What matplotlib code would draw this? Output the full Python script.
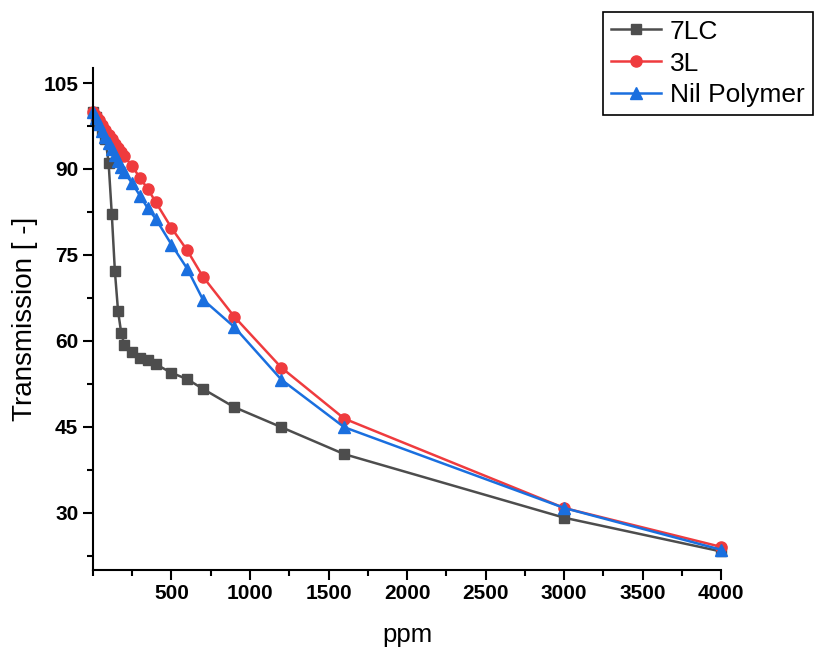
import matplotlib
matplotlib.use("Agg")
import matplotlib.pyplot as plt
from matplotlib.ticker import MultipleLocator

plt.rcParams["font.family"] = ["Liberation Sans", "DejaVu Sans"]

# ppm values and transmission readings
ppm = [0, 20, 40, 60, 80, 100, 120, 140, 160, 180, 200, 250, 300, 350, 400,
       500, 600, 700, 900, 1200, 1600, 3000, 4000]
lc7 = [100, 99, 98, 96.8, 95.3, 91, 82.2, 72.1, 65.2, 61.4, 59.3, 58, 57,
       56.6, 55.9, 54.4, 53.3, 51.6, 48.4, 44.9, 40.2, 29.1, 23.2]
l3 = [100, 99.3, 98.5, 97.6, 96.8, 96, 95.2, 94.4, 93.6, 92.9, 92.2, 90.5,
      88.4, 86.5, 84.2, 79.7, 75.8, 71.2, 64.2, 55.3, 46.4, 30.8, 24.0]
nil = [100, 98.9, 97.8, 96.7, 95.6, 94.6, 93.5, 92.4, 91.4, 90.4, 89.4, 87.5,
       85.3, 83.1, 81.3, 76.8, 72.6, 67.2, 62.4, 53.2, 44.9, 30.8, 23.5]

fig = plt.figure(figsize=(8.15, 6.49), dpi=100)
ax = fig.add_axes([0.114, 0.122, 0.771, 0.773])

ax.plot(ppm, lc7, color="#4d4d4d", marker="s", markersize=7, lw=1.8,
        label="7LC", clip_on=False)
ax.plot(ppm, l3, color="#ef3b3e", marker="o", markersize=8, lw=1.8,
        label="3L", clip_on=False)
ax.plot(ppm, nil, color="#1a6fdf", marker="^", markersize=8, lw=1.8,
        label="Nil Polymer", clip_on=False)

ax.set_xlim(0, 4000)
ax.set_ylim(20, 107.6)
ax.xaxis.set_minor_locator(MultipleLocator(250))
ax.yaxis.set_minor_locator(MultipleLocator(7.5))
ax.set_xticks([500, 1000, 1500, 2000, 2500, 3000, 3500, 4000])
ax.set_yticks([30, 45, 60, 75, 90, 105])

for s in ["top", "right"]:
    ax.spines[s].set_visible(False)
for s in ["left", "bottom"]:
    ax.spines[s].set_linewidth(1.5)
ax.tick_params(which="major", length=7, width=1.5, labelsize=15)
ax.tick_params(which="minor", length=4, width=1.5)
for lab in ax.get_xticklabels() + ax.get_yticklabels():
    lab.set_fontweight("bold")

ax.set_xlabel("ppm", fontsize=18.5, labelpad=14)
ax.set_ylabel("Transmission [ -]", fontsize=20, labelpad=4)

leg = fig.legend(loc="upper right", bbox_to_anchor=(0.997, 0.982), fontsize=19,
                 frameon=True, fancybox=False, framealpha=1, edgecolor="black",
                 handlelength=1.9, handletextpad=0.35, borderpad=0.3,
                 labelspacing=0.3, borderaxespad=0)
leg.get_frame().set_linewidth(1.2)

fig.savefig("out.png", dpi=100)
